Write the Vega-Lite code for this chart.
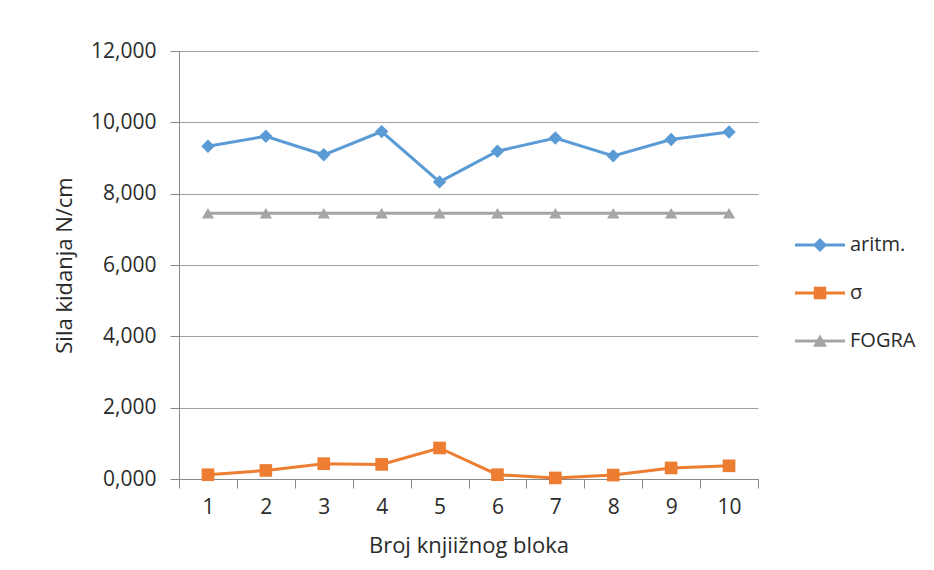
{
  "$schema": "https://vega.github.io/schema/vega-lite/v6.json",
  "width": 579,
  "height": 428,
  "autosize": "none",
  "padding": {"left": 179, "top": 51, "right": 176, "bottom": 91},
  "background": "white",
  "config": {
    "view": {"stroke": null},
    "font": "Open Sans",
    "axis": {"labelColor": "#2b2b2b", "titleColor": "#2b2b2b", "titleFontWeight": "normal", "labelFont": "Open Sans", "titleFont": "Open Sans"}
  },
  "data": {
    "values": [
      {"blok": 1, "serija": "aritm.", "sila": 9.33},
      {"blok": 2, "serija": "aritm.", "sila": 9.61},
      {"blok": 3, "serija": "aritm.", "sila": 9.09},
      {"blok": 4, "serija": "aritm.", "sila": 9.74},
      {"blok": 5, "serija": "aritm.", "sila": 8.33},
      {"blok": 6, "serija": "aritm.", "sila": 9.19},
      {"blok": 7, "serija": "aritm.", "sila": 9.56},
      {"blok": 8, "serija": "aritm.", "sila": 9.06},
      {"blok": 9, "serija": "aritm.", "sila": 9.52},
      {"blok": 10, "serija": "aritm.", "sila": 9.73},
      {"blok": 1, "serija": "σ", "sila": 0.12},
      {"blok": 2, "serija": "σ", "sila": 0.24},
      {"blok": 3, "serija": "σ", "sila": 0.43},
      {"blok": 4, "serija": "σ", "sila": 0.41},
      {"blok": 5, "serija": "σ", "sila": 0.87},
      {"blok": 6, "serija": "σ", "sila": 0.12},
      {"blok": 7, "serija": "σ", "sila": 0.03},
      {"blok": 8, "serija": "σ", "sila": 0.11},
      {"blok": 9, "serija": "σ", "sila": 0.31},
      {"blok": 10, "serija": "σ", "sila": 0.37},
      {"blok": 1, "serija": "FOGRA", "sila": 7.45},
      {"blok": 2, "serija": "FOGRA", "sila": 7.45},
      {"blok": 3, "serija": "FOGRA", "sila": 7.45},
      {"blok": 4, "serija": "FOGRA", "sila": 7.45},
      {"blok": 5, "serija": "FOGRA", "sila": 7.45},
      {"blok": 6, "serija": "FOGRA", "sila": 7.45},
      {"blok": 7, "serija": "FOGRA", "sila": 7.45},
      {"blok": 8, "serija": "FOGRA", "sila": 7.45},
      {"blok": 9, "serija": "FOGRA", "sila": 7.45},
      {"blok": 10, "serija": "FOGRA", "sila": 7.45}
    ]
  },
  "encoding": {
    "x": {
      "field": "blok",
      "type": "ordinal",
      "title": "Broj knjiižnog bloka",
      "scale": {"paddingInner": 0, "paddingOuter": 0},
      "axis": {
        "labelAngle": 0,
        "labelFontSize": 21,
        "labelPadding": 8,
        "titleFontSize": 22,
        "titlePadding": 18,
        "tickBand": "extent",
        "tickSize": 9,
        "domainColor": "#888888",
        "tickColor": "#888888",
        "grid": false
      }
    },
    "y": {
      "field": "sila",
      "type": "quantitative",
      "title": "Sila kidanja N/cm",
      "scale": {"domain": [0, 12]},
      "axis": {
        "values": [0, 2, 4, 6, 8, 10, 12],
        "labelExpr": "replace(format(datum.value, '.3f'), '.', ',')",
        "labelFontSize": 21,
        "labelPadding": 14,
        "titleFontSize": 22,
        "titlePadding": 14,
        "tickSize": 9,
        "domainColor": "#888888",
        "tickColor": "#888888",
        "gridColor": "#A0A0A0",
        "gridOpacity": 1
      }
    },
    "color": {
      "field": "serija",
      "type": "nominal",
      "title": null,
      "scale": {"domain": ["aritm.", "σ", "FOGRA"], "range": ["#5B9BD5", "#ED7D31", "#A5A5A5"]},
      "legend": {
        "orient": "none",
        "legendX": 616,
        "legendY": 169,
        "padding": 0,
        "symbolSize": 2500,
        "rowPadding": 13,
        "labelOffset": 5,
        "labelFontSize": 20,
        "labelColor": "#2b2b2b",
        "labelFont": "Open Sans",
        "encode": {
          "symbols": {
            "update": {
              "shape": {"signal": "datum.value === 'aritm.' ? 'M-1,-0.06H1V0.06H-1Z M0,-0.28L0.28,0L0,0.28L-0.28,0Z' : datum.value === 'FOGRA' ? 'M-1,-0.06H1V0.06H-1Z M0,-0.26L0.28,0.23H-0.28Z' : 'M-1,-0.06H1V0.06H-1Z M-0.25,-0.25H0.25V0.25H-0.25Z'"},
              "fill": {"signal": "scale('color', datum.value)"},
              "fillOpacity": {"value": 1},
              "strokeWidth": {"value": 0},
              "size": {"value": 2500}
            }
          }
        }
      }
    }
  },
  "layer": [
    {
      "mark": {"type": "line", "strokeWidth": 3}
    },
    {
      "transform": [{"filter": "datum.serija === 'aritm.'"}],
      "mark": {"type": "point", "filled": true, "opacity": 1, "shape": "diamond", "size": 180}
    },
    {
      "transform": [{"filter": "datum.serija === 'σ'"}],
      "mark": {"type": "point", "filled": true, "opacity": 1, "shape": "square", "size": 160}
    },
    {
      "transform": [{"filter": "datum.serija === 'FOGRA'"}],
      "mark": {"type": "point", "filled": true, "opacity": 1, "shape": "triangle-up", "size": 150}
    }
  ]
}
